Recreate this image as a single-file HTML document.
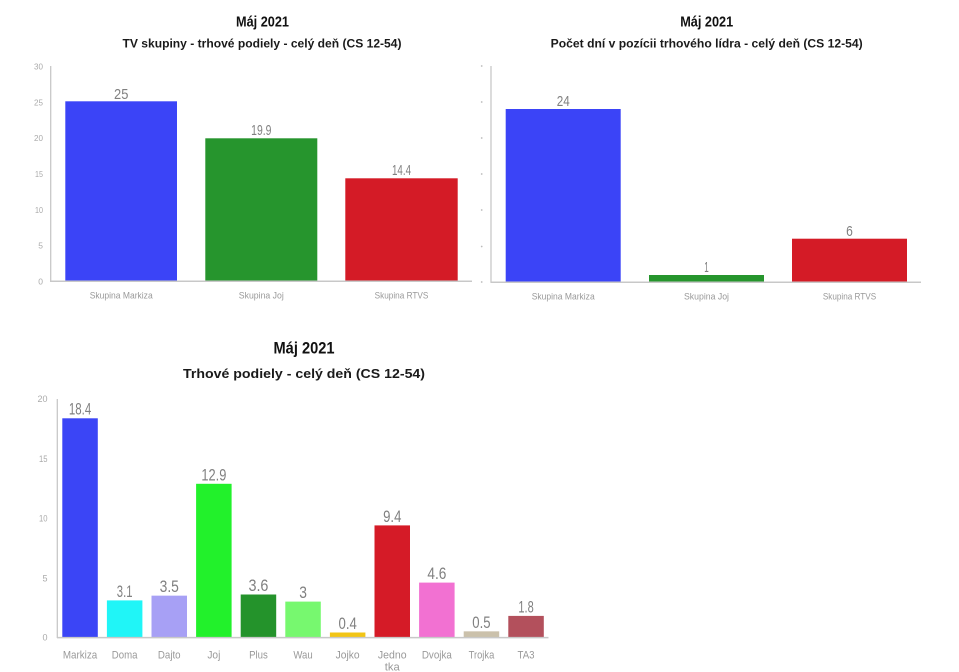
<!DOCTYPE html>
<html><head><meta charset="utf-8"><style>
html,body{margin:0;padding:0;background:#fff;}
svg{display:block;}
text{font-family:"Liberation Sans",sans-serif;}
.t{font-weight:bold;fill:#111;font-size:15px;}
.s{font-weight:bold;fill:#1a1a1a;font-size:11.5px;}
.tk{fill:#aaa;font-size:8.5px;}
.v{fill:#808080;font-size:15px;}
.c{fill:#999;font-size:9.5px;}
.c3{fill:#999;font-size:11px;}
.v3{fill:#808080;font-size:17px;}
</style></head><body>
<svg width="959" height="672" viewBox="0 0 959 672" xmlns="http://www.w3.org/2000/svg">
<rect width="959" height="672" fill="#fff"/>

<!-- Chart 1 -->
<text class="t" x="262.5" y="26.5" text-anchor="middle" textLength="53" lengthAdjust="spacingAndGlyphs">Máj 2021</text>
<text class="s" x="262" y="47.5" text-anchor="middle" textLength="279" lengthAdjust="spacingAndGlyphs">TV skupiny - trhové podiely - celý deň (CS 12-54)</text>
<g class="tk" text-anchor="end">
<text x="43" y="69.5" textLength="9" lengthAdjust="spacingAndGlyphs">30</text>
<text x="43" y="105.3" textLength="9" lengthAdjust="spacingAndGlyphs">25</text>
<text x="43" y="141.2" textLength="9" lengthAdjust="spacingAndGlyphs">20</text>
<text x="43" y="177" textLength="8" lengthAdjust="spacingAndGlyphs">15</text>
<text x="43" y="212.8" textLength="8" lengthAdjust="spacingAndGlyphs">10</text>
<text x="43" y="248.7">5</text>
<text x="43" y="284.5">0</text>
</g>
<line x1="50.7" y1="66" x2="50.7" y2="281.5" stroke="#c8c8c8" stroke-width="1.3"/>
<rect x="65.3" y="101.3" width="111.7" height="179.7" fill="#3b44f7"/>
<rect x="205.3" y="138.3" width="112" height="142.7" fill="#26952d"/>
<rect x="345.3" y="178.3" width="112.4" height="102.7" fill="#d41b26"/>
<line x1="50" y1="281.3" x2="472" y2="281.3" stroke="#c8c8c8" stroke-width="1.5"/>
<g class="v" text-anchor="middle">
<text x="121.2" y="99" textLength="14.3" lengthAdjust="spacingAndGlyphs">25</text>
<text x="261.3" y="135" textLength="20.3" lengthAdjust="spacingAndGlyphs">19.9</text>
<text x="401.5" y="175" textLength="19" lengthAdjust="spacingAndGlyphs">14.4</text>
</g>
<g class="c" text-anchor="middle">
<text x="121.2" y="298.5" textLength="63" lengthAdjust="spacingAndGlyphs">Skupina Markiza</text>
<text x="261.3" y="298.5" textLength="45" lengthAdjust="spacingAndGlyphs">Skupina Joj</text>
<text x="401.5" y="298.5" textLength="53.7" lengthAdjust="spacingAndGlyphs">Skupina RTVS</text>
</g>

<!-- Chart 2 -->
<text class="t" x="706.7" y="26.5" text-anchor="middle" textLength="53" lengthAdjust="spacingAndGlyphs">Máj 2021</text>
<text class="s" x="706.7" y="47.5" text-anchor="middle" textLength="312" lengthAdjust="spacingAndGlyphs">Počet dní v pozícii trhového lídra - celý deň (CS 12-54)</text>
<g fill="#bbb">
<circle cx="481.7" cy="66" r="0.9"/>
<circle cx="481.7" cy="102" r="0.9"/>
<circle cx="481.7" cy="138" r="0.9"/>
<circle cx="481.7" cy="174" r="0.9"/>
<circle cx="481.7" cy="210" r="0.9"/>
<circle cx="481.7" cy="246.5" r="0.9"/>
<circle cx="481.7" cy="282" r="0.9"/>
</g>
<line x1="491" y1="66" x2="491" y2="282.5" stroke="#c8c8c8" stroke-width="1.3"/>
<rect x="505.7" y="109" width="115" height="173" fill="#3b44f7"/>
<rect x="649" y="275" width="115" height="7" fill="#26952d"/>
<rect x="792" y="238.7" width="115" height="43.3" fill="#d41b26"/>
<line x1="490.5" y1="282.3" x2="921" y2="282.3" stroke="#c8c8c8" stroke-width="1.5"/>
<g class="v" text-anchor="middle">
<text x="563.2" y="106" textLength="13" lengthAdjust="spacingAndGlyphs">24</text>
<text x="706.5" y="271.8" textLength="4.5" lengthAdjust="spacingAndGlyphs">1</text>
<text x="849.5" y="236" textLength="6.7" lengthAdjust="spacingAndGlyphs">6</text>
</g>
<g class="c" text-anchor="middle">
<text x="563.2" y="299.5" textLength="63" lengthAdjust="spacingAndGlyphs">Skupina Markiza</text>
<text x="706.5" y="299.5" textLength="45" lengthAdjust="spacingAndGlyphs">Skupina Joj</text>
<text x="849.5" y="299.5" textLength="53.3" lengthAdjust="spacingAndGlyphs">Skupina RTVS</text>
</g>

<!-- Chart 3 -->
<text class="t" x="304" y="353.5" text-anchor="middle" font-size="17" style="font-size:17px" textLength="61" lengthAdjust="spacingAndGlyphs">Máj 2021</text>
<text class="s" x="304" y="378" text-anchor="middle" style="font-size:12.5px" textLength="242" lengthAdjust="spacingAndGlyphs">Trhové podiely - celý deň (CS 12-54)</text>
<g class="tk" text-anchor="end" style="font-size:9px">
<text x="47.5" y="402" textLength="10" lengthAdjust="spacingAndGlyphs">20</text>
<text x="47.5" y="462" textLength="8.5" lengthAdjust="spacingAndGlyphs">15</text>
<text x="47.5" y="521.5" textLength="8.5" lengthAdjust="spacingAndGlyphs">10</text>
<text x="47.5" y="581.5">5</text>
<text x="47.5" y="640.5">0</text>
</g>
<line x1="57.3" y1="399" x2="57.3" y2="638" stroke="#c8c8c8" stroke-width="1.3"/>
<rect x="62.3" y="418.3" width="35.5" height="219" fill="#3b45f6"/>
<rect x="106.9" y="600.4" width="35.5" height="36.9" fill="#20f5f7"/>
<rect x="151.5" y="595.65" width="35.5" height="41.65" fill="#a7a0f5"/>
<rect x="196.1" y="483.8" width="35.5" height="153.5" fill="#22f12b"/>
<rect x="240.7" y="594.5" width="35.5" height="42.8" fill="#24932b"/>
<rect x="285.3" y="601.6" width="35.5" height="35.7" fill="#77f86f"/>
<rect x="329.9" y="632.5" width="35.5" height="4.8" fill="#f2c516"/>
<rect x="374.5" y="525.4" width="35.5" height="111.9" fill="#d51b27"/>
<rect x="419.1" y="582.6" width="35.5" height="54.7" fill="#f271d2"/>
<rect x="463.7" y="631.35" width="35.5" height="5.95" fill="#cbc1ab"/>
<rect x="508.3" y="615.9" width="35.5" height="21.4" fill="#b3505c"/>
<line x1="57" y1="637.6" x2="548.5" y2="637.6" stroke="#c8c8c8" stroke-width="1.5"/>
<g class="v3" text-anchor="middle">
<text x="80.05" y="414.5" textLength="22.3" lengthAdjust="spacingAndGlyphs">18.4</text>
<text x="124.65" y="597" textLength="15.7" lengthAdjust="spacingAndGlyphs">3.1</text>
<text x="169.25" y="592.2" textLength="19.3" lengthAdjust="spacingAndGlyphs">3.5</text>
<text x="213.85" y="480.3" textLength="25" lengthAdjust="spacingAndGlyphs">12.9</text>
<text x="258.45" y="591" textLength="20" lengthAdjust="spacingAndGlyphs">3.6</text>
<text x="303.05" y="598.1" textLength="7.7" lengthAdjust="spacingAndGlyphs">3</text>
<text x="347.65" y="629" textLength="18.3" lengthAdjust="spacingAndGlyphs">0.4</text>
<text x="392.25" y="521.9" textLength="18.3" lengthAdjust="spacingAndGlyphs">9.4</text>
<text x="436.85" y="579.1" textLength="19" lengthAdjust="spacingAndGlyphs">4.6</text>
<text x="481.45" y="627.9" textLength="18.3" lengthAdjust="spacingAndGlyphs">0.5</text>
<text x="526.05" y="612.4" textLength="15.3" lengthAdjust="spacingAndGlyphs">1.8</text>
</g>
<g class="c3" text-anchor="middle">
<text x="80.05" y="658.3" textLength="34.3" lengthAdjust="spacingAndGlyphs">Markiza</text>
<text x="124.65" y="658.3" textLength="25.7" lengthAdjust="spacingAndGlyphs">Doma</text>
<text x="169.25" y="658.3" textLength="22.7" lengthAdjust="spacingAndGlyphs">Dajto</text>
<text x="213.85" y="658.3" textLength="13" lengthAdjust="spacingAndGlyphs">Joj</text>
<text x="258.45" y="658.3" textLength="18.7" lengthAdjust="spacingAndGlyphs">Plus</text>
<text x="303.05" y="658.3" textLength="19.3" lengthAdjust="spacingAndGlyphs">Wau</text>
<text x="347.65" y="658.3" textLength="24" lengthAdjust="spacingAndGlyphs">Jojko</text>
<text x="392.25" y="658.3" textLength="28.7" lengthAdjust="spacingAndGlyphs">Jedno</text>
<text x="392.25" y="670.5" textLength="15" lengthAdjust="spacingAndGlyphs">tka</text>
<text x="436.85" y="658.3" textLength="30" lengthAdjust="spacingAndGlyphs">Dvojka</text>
<text x="481.45" y="658.3" textLength="25.7" lengthAdjust="spacingAndGlyphs">Trojka</text>
<text x="526.05" y="658.3" textLength="17" lengthAdjust="spacingAndGlyphs">TA3</text>
</g>
</svg>
</body></html>
